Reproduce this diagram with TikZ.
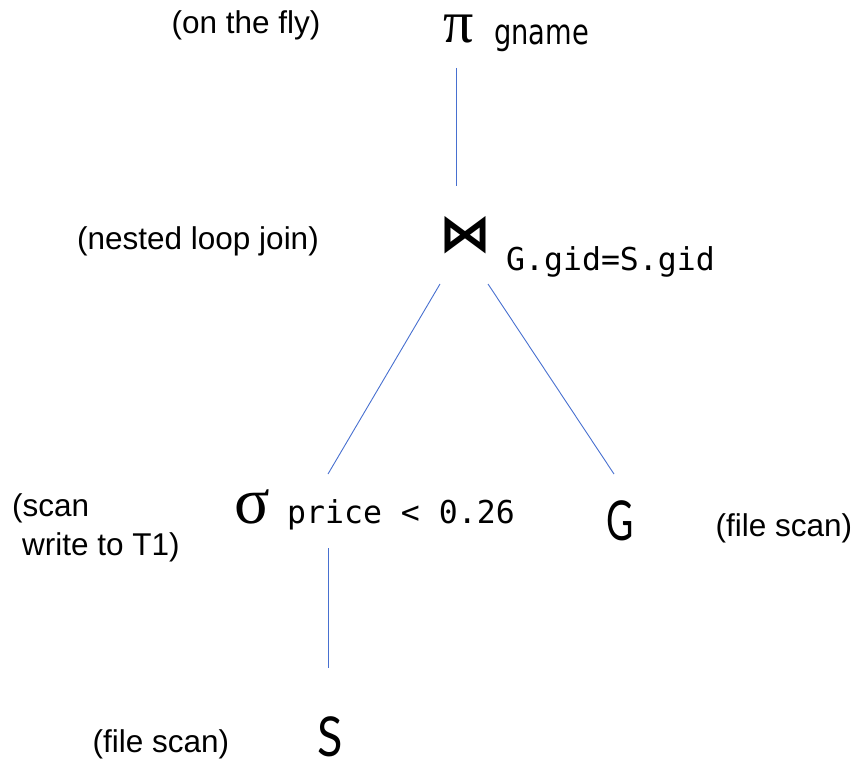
\documentclass[tikz,border=0pt]{standalone}
\usepackage{fontspec}
\setmainfont{Liberation Sans}
\newfontfamily\symfont{Liberation Serif}
\newfontfamily\opfont{DejaVu Sans}
\newfontfamily\monofont{DejaVu Sans Mono}
\newfontfamily\relfont{Lato}
\definecolor{edgeblue}{RGB}{72,112,208}
\begin{document}
\begin{tikzpicture}[x=1pt,y=-1pt,
  lbl/.style={inner sep=0pt,font=\fontsize{31.5}{38}\selectfont},
  greek/.style={inner sep=0pt,anchor=base west,text height=30pt,text depth=1pt},
  mono/.style={inner sep=0pt,anchor=base west,font=\monofont\fontsize{31.5}{38}\selectfont},
  rel/.style={inner sep=0pt,anchor=base west,text height=40pt,text depth=1pt,font=\relfont\fontsize{55}{60}\selectfont},
  edge/.style={draw=edgeblue,line width=0.9pt}]
\path[use as bounding box] (0,0) rectangle (856,762);
% operators
\node[greek,font=\symfont\fontsize{60}{64}\selectfont] (pi) at (443,43) {π};
\node[inner sep=0pt,anchor=base west,font=\opfont\fontsize{35}{38}\selectfont] (gname) at (494,45) {\scalebox{0.78}[1]{gname}};
\node[inner sep=0pt,anchor=base west,font=\opfont\bfseries\fontsize{52}{56}\selectfont] (join) at (439,251) {⋈};
\node[mono] (jcond) at (506,270) {G.gid=S.gid};
\node[greek,font=\symfont\fontsize{66}{68}\selectfont] (sigma) at (234,523) {σ};
\node[mono] (scond) at (287,523) {price < 0.26};
\node[rel] (G) at (606,540) {\scalebox{0.68}[1]{G}};
\node[rel] (S) at (317,756) {\scalebox{0.85}[1]{S}};
% annotations
\node[lbl] (l1) at (246,25) {(on the fly)};
\node[lbl] (l2) at (198,241) {(nested loop join)};
\node[lbl,anchor=base west] (l3a) at (12,516) {(scan};
\node[lbl,anchor=base west] (l3b) at (22,555) {write to T1)};
\node[lbl] (l4) at (784,528) {(file scan)};
\node[lbl] (l5) at (161,744) {(file scan)};
% connector ends
\coordinate (a1) at (456,68);
\coordinate (a2) at (456,186);
\coordinate (b1) at (440,284);
\coordinate (b2) at (328,474);
\coordinate (c1) at (488,284);
\coordinate (c2) at (614,474);
\coordinate (d1) at (328,548);
\coordinate (d2) at (328,668);
\draw[edge] (a1) -- (a2);
\draw[edge] (b1) -- (b2);
\draw[edge] (c1) -- (c2);
\draw[edge] (d1) -- (d2);
\end{tikzpicture}
\end{document}
